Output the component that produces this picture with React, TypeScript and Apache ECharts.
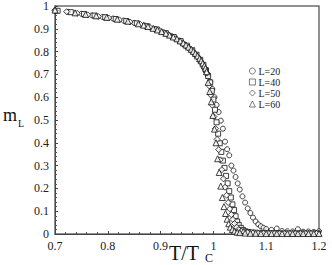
import React, { useEffect, useRef } from "react";
import * as echarts from "echarts";

// L = 20 (circles)
const t20 = [0.700, 0.725, 0.750, 0.770, 0.790, 0.810, 0.830, 0.850, 0.870, 0.890, 0.905, 0.920, 0.935, 0.945, 0.955, 0.965, 0.972, 0.978, 0.984, 0.989, 0.994, 0.998, 1.002, 1.006, 1.010, 1.014, 1.018, 1.022, 1.026, 1.030, 1.034, 1.038, 1.042, 1.046, 1.050, 1.055, 1.060, 1.065, 1.070, 1.075, 1.080, 1.085, 1.090, 1.095, 1.100, 1.110, 1.120, 1.130, 1.140, 1.150, 1.160, 1.170, 1.180, 1.190, 1.200];
const m20 = [0.981, 0.974, 0.966, 0.959, 0.952, 0.945, 0.936, 0.926, 0.914, 0.899, 0.885, 0.869, 0.848, 0.832, 0.813, 0.790, 0.771, 0.750, 0.724, 0.698, 0.667, 0.636, 0.600, 0.566, 0.535, 0.497, 0.462, 0.405, 0.372, 0.345, 0.300, 0.278, 0.250, 0.222, 0.195, 0.165, 0.138, 0.112, 0.092, 0.072, 0.055, 0.042, 0.034, 0.027, 0.022, 0.018, 0.024, 0.013, 0.012, 0.011, 0.021, 0.010, 0.011, 0.009, 0.012];

// L = 40 (squares)
const t40 = [0.705, 0.730, 0.755, 0.775, 0.795, 0.815, 0.835, 0.855, 0.875, 0.893, 0.910, 0.925, 0.938, 0.950, 0.960, 0.968, 0.975, 0.981, 0.986, 0.990, 0.994, 0.997, 1.000, 1.003, 1.006, 1.009, 1.012, 1.015, 1.018, 1.021, 1.024, 1.027, 1.030, 1.033, 1.036, 1.039, 1.042, 1.045, 1.048, 1.052, 1.056, 1.060, 1.066, 1.072, 1.080, 1.090, 1.100, 1.110, 1.120, 1.130, 1.140, 1.150, 1.160, 1.170, 1.180, 1.190, 1.198];
const m40 = [0.979, 0.973, 0.965, 0.958, 0.951, 0.943, 0.934, 0.924, 0.911, 0.897, 0.881, 0.864, 0.846, 0.826, 0.806, 0.786, 0.764, 0.742, 0.718, 0.693, 0.665, 0.628, 0.590, 0.545, 0.490, 0.440, 0.398, 0.360, 0.322, 0.290, 0.255, 0.222, 0.188, 0.160, 0.130, 0.105, 0.078, 0.055, 0.040, 0.027, 0.018, 0.012, 0.009, 0.007, 0.006, 0.005, 0.005, 0.004, 0.004, 0.003, 0.003, 0.003, 0.003, 0.003, 0.003, 0.003, 0.003];

// L = 50 (diamonds)
const t50 = [0.700, 0.722, 0.742, 0.762, 0.782, 0.802, 0.822, 0.842, 0.862, 0.880, 0.898, 0.914, 0.928, 0.942, 0.953, 0.963, 0.971, 0.978, 0.984, 0.988, 0.992, 0.995, 0.998, 1.001, 1.004, 1.007, 1.010, 1.013, 1.016, 1.019, 1.022, 1.025, 1.028, 1.031, 1.034, 1.037, 1.040, 1.044, 1.048, 1.053, 1.058, 1.065, 1.075, 1.085, 1.095, 1.105, 1.115, 1.125, 1.135, 1.145, 1.155, 1.165, 1.175, 1.185, 1.195];
const m50 = [0.980, 0.975, 0.968, 0.961, 0.954, 0.947, 0.939, 0.930, 0.919, 0.906, 0.891, 0.874, 0.856, 0.834, 0.814, 0.793, 0.773, 0.750, 0.726, 0.706, 0.650, 0.610, 0.565, 0.515, 0.462, 0.415, 0.370, 0.325, 0.282, 0.242, 0.205, 0.170, 0.138, 0.110, 0.085, 0.064, 0.046, 0.030, 0.019, 0.012, 0.008, 0.006, 0.004, 0.003, 0.003, 0.002, 0.002, 0.002, 0.002, 0.002, 0.002, 0.002, 0.002, 0.002, 0.002];

// L = 60 (triangles)
const t60 = [0.700, 0.738, 0.758, 0.778, 0.798, 0.818, 0.838, 0.858, 0.868, 0.876, 0.886, 0.894, 0.902, 0.910, 0.917, 0.924, 0.931, 0.937, 0.943, 0.948, 0.953, 0.958, 0.962, 0.966, 0.970, 0.974, 0.977, 0.980, 0.983, 0.985, 0.987, 0.990, 0.993, 0.996, 0.999, 1.002, 1.005, 1.008, 1.011, 1.014, 1.017, 1.020, 1.023, 1.026, 1.029, 1.032, 1.036, 1.040, 1.045, 1.050, 1.060, 1.070, 1.080, 1.090, 1.100, 1.110, 1.120, 1.130, 1.140, 1.150, 1.160, 1.170, 1.180, 1.190, 1.200];
const m60 = [0.982, 0.970, 0.963, 0.957, 0.950, 0.942, 0.933, 0.922, 0.916, 0.910, 0.902, 0.895, 0.888, 0.880, 0.872, 0.864, 0.856, 0.847, 0.838, 0.829, 0.820, 0.810, 0.801, 0.792, 0.781, 0.770, 0.760, 0.749, 0.738, 0.727, 0.712, 0.665, 0.625, 0.580, 0.520, 0.460, 0.400, 0.330, 0.270, 0.210, 0.160, 0.120, 0.090, 0.065, 0.045, 0.030, 0.020, 0.012, 0.008, 0.006, 0.004, 0.003, 0.003, 0.002, 0.002, 0.002, 0.002, 0.002, 0.002, 0.002, 0.002, 0.002, 0.002, 0.002, 0.002];

const seriesNames = ["L=20", "L=40", "L=50", "L=60"];
const xTicks = [0.7, 0.8, 0.9, 1.0, 1.1, 1.2];
const yTicks = [0, 0.1, 0.2, 0.3, 0.4, 0.5, 0.6, 0.7, 0.8, 0.9, 1.0];

const FONT = '"Liberation Serif", "DejaVu Serif", serif';

function pairs(t: number[], m: number[]) {
  return t.map((x, i) => [x, m[i]]);
}

export default function App() {
  const ref = useRef<HTMLDivElement>(null);
  useEffect(() => {
    if (!ref.current) return;
    const chart = echarts.init(ref.current, null, { renderer: "svg" });
    const mk = (name: string, symbol: string, size: number, data: number[][]) => ({
      name,
      type: "scatter",
      symbol,
      symbolSize: size,
      data,
      itemStyle: { color: "#ffffff", borderColor: "#111111", borderWidth: 1 },
    });
    const fmt = (v: number) => String(Number(v.toFixed(1)));
    chart.setOption({
      animation: false,
      backgroundColor: "#ffffff",
      grid: {
        left: 55,
        right: 13,
        top: 6,
        bottom: 31,
        show: true,
        borderColor: "#6e6e6e",
        borderWidth: 1.5,
      },
      legend: {
        orient: "vertical",
        left: 249,
        top: 66,
        padding: 0,
        itemWidth: 6,
        itemHeight: 6,
        itemGap: 1,
        data: seriesNames,
        itemStyle: { color: "#ffffff", borderColor: "#333333", borderWidth: 0.8 },
        textStyle: { fontFamily: FONT, fontSize: 10, color: "#222", lineHeight: 10, padding: [0, 0, 0, -2] },
      },
      xAxis: {
        type: "value",
        min: xTicks[0],
        max: xTicks[xTicks.length - 1],
        interval: 0.1,
        axisLine: { lineStyle: { color: "#444", width: 1 } },
        axisTick: { inside: true, length: 3, lineStyle: { color: "#444" } },
        minorTick: { show: true, splitNumber: 5, length: 2, lineStyle: { color: "#555" } },
        splitLine: { show: false },
        axisLabel: { fontFamily: FONT, fontSize: 12, color: "#222", margin: 6, formatter: fmt },
      },
      yAxis: {
        type: "value",
        min: yTicks[0],
        max: yTicks[yTicks.length - 1],
        interval: 0.1,
        axisLine: { show: true, lineStyle: { color: "#444", width: 1 } },
        axisTick: { show: true, inside: true, length: 3, lineStyle: { color: "#444" } },
        minorTick: { show: true, splitNumber: 5, length: 2, lineStyle: { color: "#555" } },
        splitLine: { show: false },
        axisLabel: { fontFamily: FONT, fontSize: 12, color: "#222", margin: 6, formatter: fmt },
      },
      graphic: [
        { type: "text", x: 3, y: 115, style: { text: "m", font: `18px ${FONT}`, fill: "#111", align: "left", verticalAlign: "middle" } },
        { type: "text", x: 18, y: 123, style: { text: "L", font: `10px ${FONT}`, fill: "#111", align: "left", verticalAlign: "middle" } },
        { type: "text", x: 169, y: 253, style: { text: "T/T", font: `20px ${FONT}`, fill: "#111", align: "left", verticalAlign: "middle" } },
        { type: "text", x: 205, y: 258, style: { text: "C", font: `12px ${FONT}`, fill: "#111", align: "left", verticalAlign: "middle" } },
      ],
      series: [
        mk(seriesNames[0], "circle", 5, pairs(t20, m20)),
        mk(seriesNames[1], "rect", 5, pairs(t40, m40)),
        mk(seriesNames[2], "diamond", 6, pairs(t50, m50)),
        mk(seriesNames[3], "triangle", 6, pairs(t60, m60)),
      ],
    });
    return () => chart.dispose();
  }, []);
  return (
    <div
      ref={ref}
      style={{ position: "fixed", left: 0, top: 0, width: 332, height: 265, background: "#fff" }}
    />
  );
}
